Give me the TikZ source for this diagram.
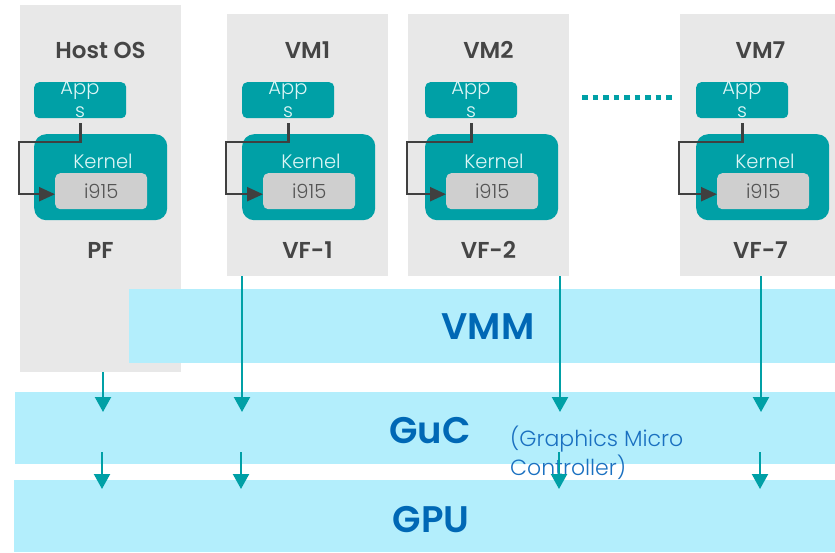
\documentclass[tikz,border=0pt]{standalone}
\usepackage{fontspec}
\IfFontExistsTF{Poppins}{\setmainfont{Poppins}}{\setmainfont{Fira Sans}}
\IfFontExistsTF{Poppins SemiBold}{\newfontfamily\boldf{Poppins SemiBold}}{\newfontfamily\boldf{Fira Sans}[FakeBold=1.5]}
\IfFontExistsTF{Poppins Light}{\newfontfamily\lightf{Poppins Light}}{\newfontfamily\lightf{Fira Sans}}
\usetikzlibrary{arrows.meta}
\definecolor{boxgrey}{HTML}{E8E8E8}
\definecolor{tealc}{HTML}{00A0A6}
\definecolor{drvgrey}{HTML}{CFCFCF}
\definecolor{bandc}{HTML}{B3EEFC}
\definecolor{titlec}{HTML}{454545}
\definecolor{apptextc}{HTML}{DDF6F6}
\definecolor{drvtextc}{HTML}{555555}
\definecolor{callc}{HTML}{404040}
\definecolor{bluec}{HTML}{0068B5}
\definecolor{lbluec}{HTML}{1A70C0}
\tikzset{
  greybox/.style={fill=boxgrey, inner sep=0pt, outer sep=0pt, anchor=north west},
  appsbox/.style={fill=tealc, rounded corners=5pt, minimum width=92pt, minimum height=36pt, inner sep=0pt, anchor=north west},
  kernbox/.style={fill=tealc, rounded corners=12pt, minimum width=133pt, minimum height=86pt, inner sep=0pt, anchor=north west},
  drvbox/.style={fill=drvgrey, rounded corners=5pt, minimum width=92pt, minimum height=36pt, inner sep=0pt, anchor=north west},
  layerband/.style={fill=bandc, inner sep=0pt, outer sep=0pt, anchor=north west},
  coltitle/.style={font=\boldf\fontsize{23}{27}\selectfont, text=titlec, anchor=base, inner sep=0pt},
  lighttext/.style={font=\lightf\fontsize{19.5}{23}\selectfont, inner sep=0pt},
  layertitle/.style={font=\boldf\fontsize{37}{40}\selectfont, text=bluec, anchor=base, inner sep=0pt},
  flow/.style={draw=tealc, line width=2.2pt, -{Triangle[length=15pt,width=16pt]}},
  callarrow/.style={draw=callc, line width=2.3pt, -{Triangle[length=16pt,width=14pt]}},
}
% #1 prefix, #2 box left, #3 box top, #4 box height, #5 apps left, #6 title, #7 vf label
\newcommand\vmcolumn[7]{%
  \node[greybox, minimum width=161pt, minimum height=#4pt] (#1box) at (#2,#3) {};
  \node[coltitle] (#1title) at (#2+80.5,58) {#6};
  \node[coltitle] (#1vf) at (#2+80.5,258) {#7};
  \node[appsbox] (#1apps) at (#5,82) {};
  \node[lighttext, text=apptextc, align=center, anchor=north] (#1appst) at (#5+46,81) {App\\s};
  \node[kernbox] (#1kern) at (#5,134) {};
  \node[lighttext, text=apptextc, anchor=base] (#1kernt) at (#5+69,168) {Kernel};
  \node[drvbox] (#1drv) at (#5+21,173) {};
  \node[lighttext, text=drvtextc] (#1drvt) at (#1drv.center) {i915};
  \coordinate (#1cs) at (#5+46.5,123);
  \coordinate (#1cl) at (#2-1,142);
  \draw[callarrow] (#1cs) |- (#1cl) |- ([yshift=-3pt]#1drv.west);
}
\begin{document}
\begin{tikzpicture}[x=1pt,y=-1pt]
\useasboundingbox (0,0) rectangle (835,552);
\vmcolumn{h}{20}{5}{367}{34}{Host OS}{PF}
\vmcolumn{a}{227}{14}{262}{242}{VM1}{VF-1}
\vmcolumn{b}{408}{14}{262}{425}{VM2}{VF-2}
\vmcolumn{g}{680}{14}{262}{696}{VM7}{VF-7}
\draw[tealc, line width=5pt, dash pattern=on 5.5pt off 5pt] (582,97) -- (672,97);
% layers
\node[layerband, minimum width=706pt, minimum height=74pt] (vmm) at (129,289) {};
\node[layerband, minimum width=820pt, minimum height=72pt] (guc) at (15,392) {};
\node[layerband, minimum width=821pt, minimum height=72pt] (gpu) at (14,480) {};
\node[layertitle] (vmmt) at (488,339) {VMM};
\node[layertitle] (guct) at (430,443) {GuC};
\node[layertitle] (gput) at (431,532) {GPU};
\node[font=\lightf\fontsize{22}{29}\selectfont, text=lbluec, align=left, anchor=north west, inner sep=0pt] (gucsub) at (510,426) {(Graphics Micro\\Controller)};
% arrows to GuC
\coordinate (t1) at (103,412);
\coordinate (t2) at (242,412);
\coordinate (t3) at (560,412);
\coordinate (t4) at (761,412);
\draw[flow] (hbox.south -| t1) -- (t1);
\draw[flow] (abox.south -| t2) -- (t2);
\draw[flow] (bbox.south -| t3) -- (t3);
\draw[flow] (gbox.south -| t4) -- (t4);
% arrows to GPU
\coordinate (s1) at (102,452);
\coordinate (s2) at (241,452);
\coordinate (s3) at (559,452);
\coordinate (s4) at (760,452);
\coordinate (e1) at (102,489);
\coordinate (e2) at (241,489);
\coordinate (e3) at (559,489);
\coordinate (e4) at (760,489);
\draw[flow] (s1) -- (e1);
\draw[flow] (s2) -- (e2);
\draw[flow] (s3) -- (e3);
\draw[flow] (s4) -- (e4);
\end{tikzpicture}
\end{document}
